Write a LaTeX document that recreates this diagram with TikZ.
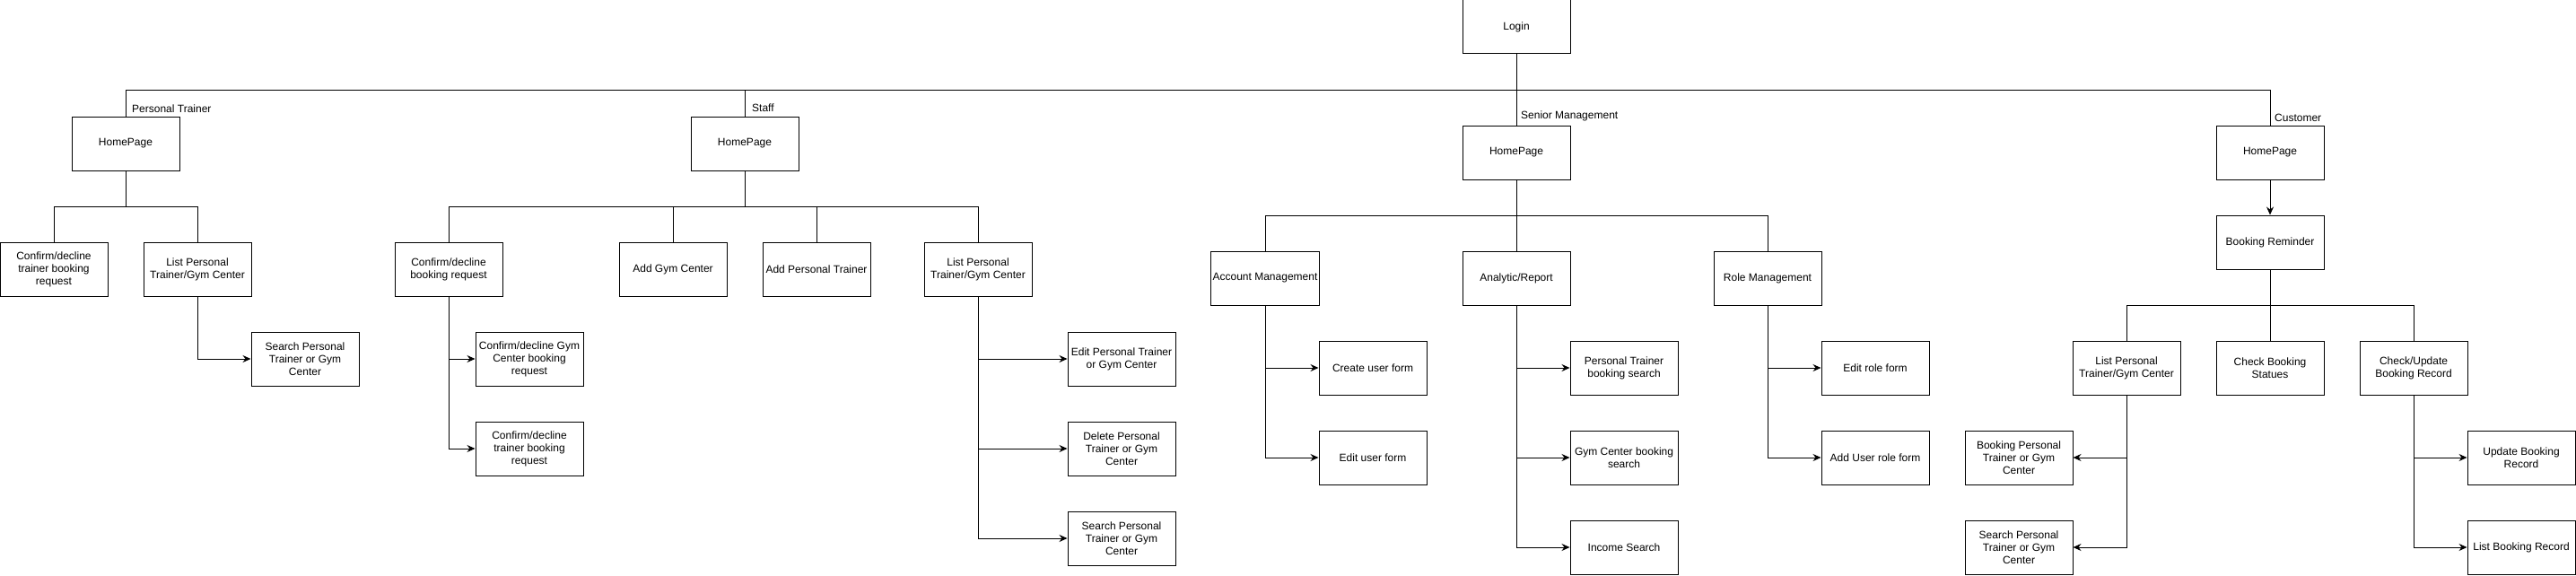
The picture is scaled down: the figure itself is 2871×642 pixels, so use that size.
\documentclass[tikz,border=0pt]{standalone}
\usepackage{fontspec}
\setmainfont{Liberation Sans}
\usetikzlibrary{arrows.meta}
\begin{document}
\begin{tikzpicture}[x=1pt,y=-1pt,
  box/.style={draw, line width=1pt, minimum width=120pt, minimum height=60pt, inner sep=2pt, align=center, font=\fontsize{12}{14}\selectfont},
  lbl/.style={anchor=west, inner sep=0pt, font=\fontsize{12}{14}\selectfont},
  conn/.style={line width=1pt},
  arr/.style={line width=1pt, -{Stealth[length=9pt,width=8pt,inset=3pt]}}]
\useasboundingbox (0,0) rectangle (2871,642);
% top
\node[box] (login) at (1690,30) {Login};
\node[box] (hp1) at (140,160) {HomePage};
\node[box] (hp2) at (830,160) {HomePage};
\node[box] (hp3) at (1690,170) {HomePage};
\node[box] (hp4) at (2530,170) {HomePage};
\node[lbl] (l1) at (147,121) {Personal Trainer};
\node[lbl] (l2) at (838,120) {Staff};
\node[lbl] (l3) at (1695,129) {Senior Management};
\node[lbl] (l4) at (2535,131) {Customer};
% personal trainer
\node[box] (pt1) at (60,300) {Confirm/decline\\trainer booking\\request};
\node[box] (pt2) at (220,300) {List Personal\\Trainer/Gym Center};
\node[box] (pt3) at (340,400) {Search Personal\\Trainer or Gym\\Center};
% staff
\node[box] (s1) at (500,300) {Confirm/decline\\booking request};
\node[box] (s1a) at (590,400) {Confirm/decline Gym\\Center booking\\request};
\node[box] (s1b) at (590,500) {Confirm/decline\\trainer booking\\request};
\node[box] (s2) at (750,300) {Add Gym Center};
\node[box] (s3) at (910,300) {Add Personal Trainer};
\node[box] (s4) at (1090,300) {List Personal\\Trainer/Gym Center};
\node[box] (s4a) at (1250,400) {Edit Personal Trainer\\or Gym Center};
\node[box] (s4b) at (1250,500) {Delete Personal\\Trainer or Gym\\Center};
\node[box] (s4c) at (1250,600) {Search Personal\\Trainer or Gym\\Center};
% senior management
\node[box] (m1) at (1410,310) {Account Management};
\node[box] (m1a) at (1530,410) {Create user form};
\node[box] (m1b) at (1530,510) {Edit user form};
\node[box] (m2) at (1690,310) {Analytic/Report};
\node[box] (m2a) at (1810,410) {Personal Trainer\\booking search};
\node[box] (m2b) at (1810,510) {Gym Center booking\\search};
\node[box] (m2c) at (1810,610) {Income Search};
\node[box] (m3) at (1970,310) {Role Management};
\node[box] (m3a) at (2090,410) {Edit role form};
\node[box] (m3b) at (2090,510) {Add User role form};
% customer
\node[box] (c0) at (2530,270) {Booking Reminder};
\node[box] (c1) at (2370,410) {List Personal\\Trainer/Gym Center};
\node[box] (c2) at (2530,410) {Check Booking\\Statues};
\node[box] (c3) at (2690,410) {Check/Update\\Booking Record};
\node[box] (c1a) at (2250,510) {Booking Personal\\Trainer or Gym\\Center};
\node[box] (c1b) at (2250,610) {Search Personal\\Trainer or Gym\\Center};
\node[box] (c3a) at (2810,510) {Update Booking\\Record};
\node[box] (c3b) at (2810,610) {List Booking Record};
% connectors: login bus
\draw[conn] (login.south) -- ++(0,40) -| (hp1.north);
\draw[conn] (login.south) -- ++(0,40) -| (hp2.north);
\draw[conn] (login.south) -- (hp3.north);
\draw[conn] (login.south) -- ++(0,40) -| (hp4.north);
% PT
\draw[conn] (hp1.south) -- ++(0,40) -| (pt1.north);
\draw[conn] (hp1.south) -- ++(0,40) -| (pt2.north);
\draw[arr] (pt2.south) |- (pt3.west);
% staff
\draw[conn] (hp2.south) -- ++(0,40) -| (s1.north);
\draw[conn] (hp2.south) -- ++(0,40) -| (s2.north);
\draw[conn] (hp2.south) -- ++(0,40) -| (s3.north);
\draw[conn] (hp2.south) -- ++(0,40) -| (s4.north);
\draw[arr] (s1.south) |- (s1a.west);
\draw[arr] (s1.south) |- (s1b.west);
\draw[arr] (s4.south) |- (s4a.west);
\draw[arr] (s4.south) |- (s4b.west);
\draw[arr] (s4.south) |- (s4c.west);
% senior management
\draw[conn] (hp3.south) -- ++(0,40) -| (m1.north);
\draw[conn] (hp3.south) -- (m2.north);
\draw[conn] (hp3.south) -- ++(0,40) -| (m3.north);
\draw[arr] (m1.south) |- (m1a.west);
\draw[arr] (m1.south) |- (m1b.west);
\draw[arr] (m2.south) |- (m2a.west);
\draw[arr] (m2.south) |- (m2b.west);
\draw[arr] (m2.south) |- (m2c.west);
\draw[arr] (m3.south) |- (m3a.west);
\draw[arr] (m3.south) |- (m3b.west);
% customer
\draw[arr] (hp4.south) -- (c0.north);
\draw[conn] (c0.south) -- ++(0,40) -| (c1.north);
\draw[conn] (c0.south) -- (c2.north);
\draw[conn] (c0.south) -- ++(0,40) -| (c3.north);
\draw[arr] (c1.south) |- (c1a.east);
\draw[arr] (c1.south) |- (c1b.east);
\draw[arr] (c3.south) |- (c3a.west);
\draw[arr] (c3.south) |- (c3b.west);
\end{tikzpicture}
\end{document}
